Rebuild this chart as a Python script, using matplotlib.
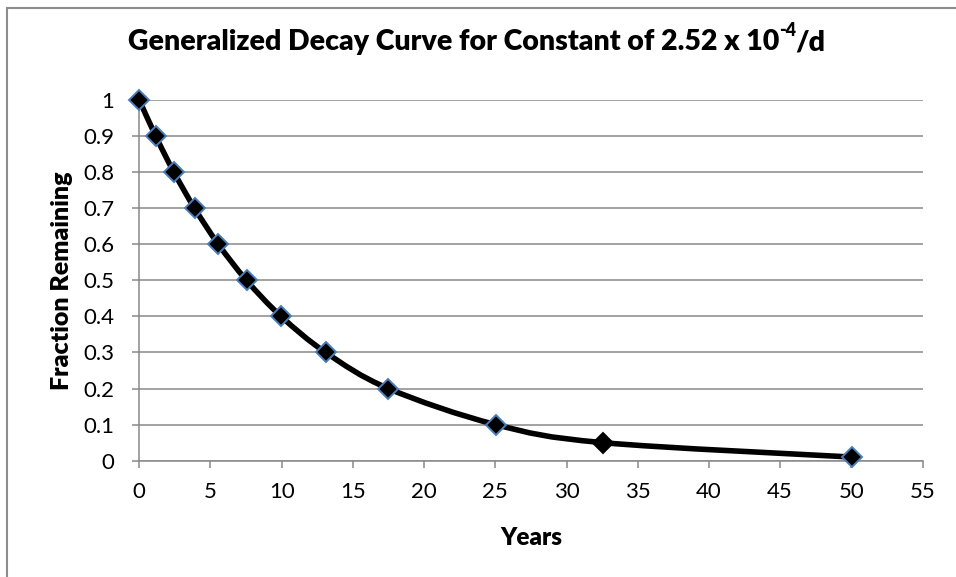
import numpy as np
import matplotlib
matplotlib.use("Agg")
import matplotlib.pyplot as plt
from matplotlib.path import Path
from matplotlib.patches import PathPatch, Rectangle

plt.rcParams['font.family'] = ['Lato', 'DejaVu Sans']

# values
years = [0, 1.15, 2.43, 3.88, 5.55, 7.53, 9.96, 13.09, 17.49, 25.03, 32.56, 50.06]
fraction = [1.0, 0.9, 0.8, 0.7, 0.6, 0.5, 0.4, 0.3, 0.2, 0.1, 0.05, 0.01]
x_ticks = [0, 5, 10, 15, 20, 25, 30, 35, 40, 45, 50, 55]
y_ticks = [0, 0.1, 0.2, 0.3, 0.4, 0.5, 0.6, 0.7, 0.8, 0.9, 1]
y_labels = ['0', '0.1', '0.2', '0.3', '0.4', '0.5', '0.6', '0.7', '0.8', '0.9', '1']
hl_idx = 10  # the point drawn without the blue outline

fig = plt.figure(figsize=(9.56, 5.77), dpi=100)
ax = fig.add_axes([0.1457, 0.2016, 0.8193, 0.6251])

# outer chart border (cropped on right/bottom)
fig.patches.append(Rectangle((7/956, -0.1), 1.2, (577-8)/577 + 0.1, transform=fig.transFigure,
                             fill=False, edgecolor='#8c8c8c', linewidth=1.5))

ax.set_xlim(0, 55)
ax.set_ylim(0, 1)
ax.set_xticks(x_ticks)
ax.set_yticks(y_ticks)
ax.set_yticklabels(y_labels)
ax.grid(axis='y', color='#898989', linewidth=1.1)
ax.set_axisbelow(True)
for s in ['top', 'right']:
    ax.spines[s].set_visible(False)
for s in ['left', 'bottom']:
    ax.spines[s].set_color('#898989')
    ax.spines[s].set_linewidth(1.1)
ax.tick_params(axis='both', direction='out', length=5, width=1.1, color='#898989',
               labelsize=16)
ax.tick_params(axis='y', pad=13)
ax.tick_params(axis='x', pad=10)

# smoothed line (Excel-style bezier through the points)
x = np.array(years)
y = np.array(fraction)
verts = [(x[0], y[0])]
codes = [Path.MOVETO]
n = len(x)
for i in range(n - 1):
    x0, y0 = (x[i-1], y[i-1]) if i > 0 else (x[i], y[i])
    x3, y3 = (x[i+2], y[i+2]) if i + 2 < n else (x[i+1], y[i+1])
    c1 = (x[i] + (x[i+1] - x0) / 6, y[i] + (y[i+1] - y0) / 6)
    c2 = (x[i+1] - (x3 - x[i]) / 6, y[i+1] - (y3 - y[i]) / 6)
    verts += [c1, c2, (x[i+1], y[i+1])]
    codes += [Path.CURVE4] * 3
ax.add_patch(PathPatch(Path(verts, codes), fill=False, edgecolor='black',
                       linewidth=4, capstyle='round', joinstyle='round', zorder=3))

mask = np.arange(n) != hl_idx
ax.plot(x[mask], y[mask], linestyle='none', marker='D', markersize=10,
        markerfacecolor='black', markeredgecolor='#4a7ebb', markeredgewidth=1.4,
        clip_on=False, zorder=4)
ax.plot(x[hl_idx], y[hl_idx], linestyle='none', marker='D', markersize=10.5,
        markerfacecolor='black', markeredgecolor='black', markeredgewidth=1.4,
        clip_on=False, zorder=4)

# title built from pieces so the superscript keeps a plain hyphen
tw = 'heavy'
t1 = fig.text(0, 0.927, 'Generalized Decay Curve for Constant of 2.52 x 10',
              ha='left', va='center', fontsize=20.5, fontweight=tw)
t2 = fig.text(0, 0.947, '-4', ha='left', va='center', fontsize=13, fontweight=tw)
t3 = fig.text(0, 0.927, '/d', ha='left', va='center', fontsize=20.5, fontweight=tw)
fig.canvas.draw()
r = fig.canvas.get_renderer()
w1 = t1.get_window_extent(r).width
w2 = t2.get_window_extent(r).width
w3 = t3.get_window_extent(r).width
x_start = 477 - (w1 + w2 + w3) / 2
t1.set_x(x_start / 956)
t2.set_x((x_start + w1) / 956)
t3.set_x((x_start + w1 + w2 - 1) / 956)

ax.set_xlabel('Years', fontsize=17.5, fontweight=tw)
ax.set_ylabel('Fraction Remaining', fontsize=18, fontweight=tw)
ax.xaxis.set_label_coords(0.5, -0.184)
ax.yaxis.set_label_coords(-0.0844, 0.5)

fig.savefig('out.png', dpi=100)
